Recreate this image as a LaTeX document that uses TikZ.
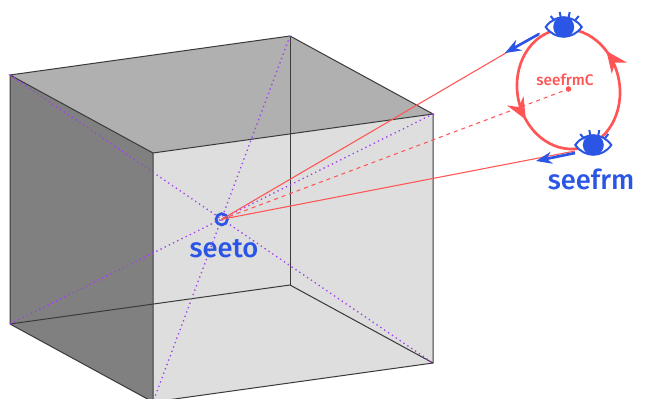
\documentclass[tikz,border=0pt]{standalone}
\usepackage{fontspec}
\setmainfont[BoldFont={Fira Sans Medium}]{Fira Sans}
\usetikzlibrary{arrows.meta, calc, decorations.markings}
\definecolor{seeblue}{HTML}{2A55E5}
\definecolor{seered}{HTML}{FF5555}
\definecolor{seepurple}{HTML}{A040F0}
\definecolor{edgegray}{HTML}{3A3A3A}

\begin{document}
\begin{tikzpicture}[
    x=0.75pt, y=-0.75pt,
    edgeline/.style={draw=edgegray, line width=0.75pt},
    diagline/.style={seepurple, line width=1pt, dash pattern=on 1pt off 2.5pt},
    rayline/.style={seered, line width=0.8pt},
    movearrow/.style={seeblue, line width=2pt, -{Stealth[length=12pt, width=9pt]}},
    ringline/.style={seered, line width=2pt, postaction={decorate},
      decoration={markings,
        mark=at position 0.09 with {\arrow{Stealth[length=16pt, width=14pt]}},
        mark=at position 0.565 with {\arrow{Stealth[length=16pt, width=14pt]}}}},
    biglbl/.style={text=seeblue, font=\fontsize{20.5}{22}\selectfont\bfseries, inner sep=0pt},
    eye/.pic={
      \draw[seeblue, line width=1.5pt, fill=white]
        (-18,0) .. controls (-9,-13) and (9,-13) .. (18,0)
        .. controls (9,13) and (-9,13) .. (-18,0) -- cycle;
      \fill[seeblue] (0,0) circle (10.5);
      \foreach \lx/\ly/\mx/\my in {-13/-11/-9/-6, -4/-15/-3/-10, 6/-15/5/-10, 15/-11/11/-6}
        \draw[seeblue, line width=1.5pt] (\lx,\ly) -- (\mx,\my);
    },
  ]
  \useasboundingbox (0,0) rectangle (646,399);
  \clip (0,0) rectangle (646,399);

  % ===== cube corners =====
  \coordinate (ltop) at (10,75);
  \coordinate (btop) at (290,36);
  \coordinate (rtop) at (433,114);
  \coordinate (ftop) at (153,153);
  \coordinate (lbot) at (10,324);
  \coordinate (bbot) at (290,285);
  \coordinate (rbot) at (433,363);
  \coordinate (fbot) at (153,402);

  % ===== faces =====
  \fill[black!50] (ltop) -- (ftop) -- (fbot) -- (lbot) -- cycle;
  \fill[black!31] (ltop) -- (btop) -- (rtop) -- (ftop) -- cycle;
  \fill[black!13] (ftop) -- (rtop) -- (rbot) -- (fbot) -- cycle;

  % ===== edges =====
  \draw[edgeline] (ltop) -- (btop) -- (rtop) -- (ftop) -- cycle;
  \draw[edgeline] (ltop) -- (lbot) -- (fbot) -- (ftop);
  \draw[edgeline] (fbot) -- (rbot) -- (rtop);
  \draw[edgeline] (btop) -- (bbot);
  \draw[edgeline] (lbot) -- (bbot) -- (rbot);

  % ===== diagonals =====
  \draw[diagline] (ltop) -- (rbot);
  \draw[diagline] (lbot) -- (rtop);
  \draw[diagline] (btop) -- (fbot);

  % ===== look-at point =====
  \node[circle, draw=seeblue, line width=2pt, minimum size=8.5pt, inner sep=0pt] (seeto) at (221.7,219.3) {};
  \node[biglbl] (seetolbl) at (224,249) {seeto};

  % ===== eye orbit =====
  \coordinate (seefrmC) at (568.5,89);
  \coordinate (eyeA) at (563.7,27);
  \coordinate (eyeB) at (593.3,145);
  \coordinate (rayA) at (540,33);
  \coordinate (rayB) at (575,151);
  \coordinate (moveAs) at (539,34);
  \coordinate (moveAe) at (505,53);
  \coordinate (moveBs) at (575,153);
  \coordinate (moveBe) at (536,161);
  \draw[ringline, rotate around={10.4:(seefrmC)}] ($(seefrmC)+(51.2,0)$) arc [start angle=0, end angle=-360, x radius=51.2, y radius=60.3];
  \draw[rayline] (seeto.center) -- (rayA);
  \draw[rayline] (seeto.center) -- (rayB);
  \draw[rayline, dashed] (seeto.center) -- (seefrmC);
  \fill[seered] (seefrmC) circle (2.8);
  \pic at (eyeA) {eye};
  \pic at (eyeB) {eye};
  \draw[movearrow] (moveAs) -- (moveAe);
  \draw[movearrow] (moveBs) -- (moveBe);

  \node[text=seered, font=\fontsize{11.5}{13}\selectfont\bfseries, inner sep=0pt] (seefrmClbl) at (565,80) {seefrmC};
  \node[biglbl] (seefrmlbl) at (591,179) {seefrm};
\end{tikzpicture}
\end{document}
